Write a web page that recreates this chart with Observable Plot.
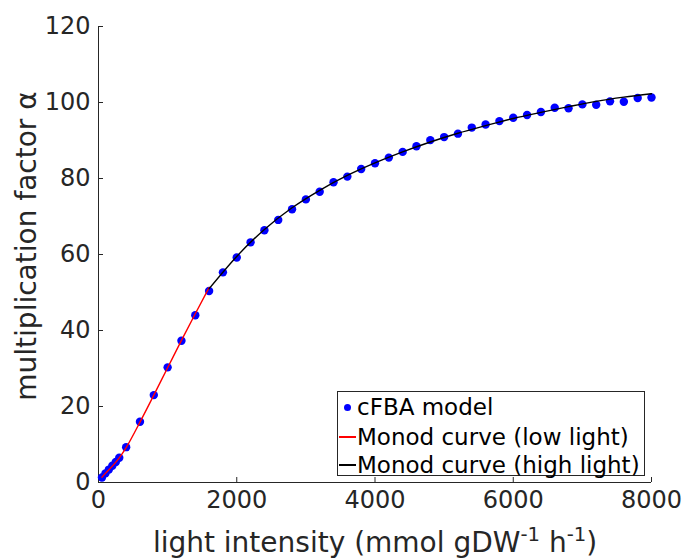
<!DOCTYPE html>
<html>
<head>
<meta charset="utf-8">
<script src="https://cdn.jsdelivr.net/npm/d3@7"></script>
<script src="https://cdn.jsdelivr.net/npm/@observablehq/plot@0.6"></script>
<style>
  html, body { margin: 0; padding: 0; background: #fff; }
  #wrap { position: relative; width: 685px; height: 560px; overflow: hidden; font-family: "DejaVu Sans", sans-serif; }
  #xlabel { position: absolute; left: 0; width: 750px; text-align: center; top: 529px; font-size: 28px; color: #262626; white-space: nowrap; line-height: 1; }
  #xlabel sup { font-size: 70%; vertical-align: 0; position: relative; top: -0.55em; }
  #ylabel { position: absolute; left: 27px; top: 246px; transform: translate(-50%, -50%) rotate(-90deg); font-size: 28px; color: #262626; white-space: nowrap; line-height: 1; }
  #legend { position: absolute; left: 337px; top: 391px; width: 308px; height: 85px; border: 1px solid #262626; background: #fff; font-size: 23px; color: #000; box-sizing: border-box; }
  .row { position: absolute; left: 0; height: 28px; line-height: 28px; white-space: nowrap; }
  .row span.t { position: absolute; left: 19px; }
  .sym { position: absolute; left: 1px; width: 17px; }
</style>
</head>
<body>
<div id="wrap">
  <div id="chart"></div>
  <div id="ylabel">multiplication factor α</div>
  <div id="xlabel">light intensity (mmol gDW<sup>-1</sup> h<sup>-1</sup>)</div>
  <div id="legend">
    <div class="row" style="top:1px"><span class="sym" style="top:11px;height:7px;"><span style="position:absolute;left:5px;top:0;width:7px;height:7px;border-radius:50%;background:#0000ff"></span></span><span class="t">cFBA model</span></div>
    <div class="row" style="top:31px"><span class="sym" style="top:13px;height:1.5px;background:#ff0000"></span><span class="t">Monod curve (low light)</span></div>
    <div class="row" style="top:59px"><span class="sym" style="top:13px;height:1.5px;background:#000000"></span><span class="t">Monod curve (high light)</span></div>
  </div>
</div>
<script>
// cFBA model points
const lightIntensity = [50,100,150,200,250,300,400,600,800,1000,1200,1400,
  1600,1800,2000,2200,2400,2600,2800,3000,3200,3400,3600,3800,4000,4200,4400,4600,4800,5000,
  5200,5400,5600,5800,6000,6200,6400,6600,6800,7000,7200,7400,7600,7800,8000];
const cfbaAlpha = [1.3,2.4,3.4,4.4,5.4,6.5,9.3,16.0,23.0,30.3,37.3,44.0,
  50.4,55.3,59.2,63.2,66.4,69.1,71.9,74.5,76.5,79.0,80.5,82.5,84.0,85.5,87.0,88.5,90.1,90.9,
  91.8,93.4,94.2,95.1,96.0,96.7,97.5,98.6,98.5,99.5,99.4,100.3,100.2,101.2,101.3];

// Monod curve (low light)
const lowLightX = [50,100,200,300,400,600,800,1000,1200,1400,1600];
const lowLightAlpha = [1.4,2.4,4.3,6.5,9.2,15.9,23.0,30.2,37.4,44.4,51.3];

// Monod curve (high light)
const highLightX = [1600,2000,2400,2800,3200,3600,4000,4400,4800,5200,5600,6000,6400,6800,7200,7600,8000];
const highLightAlpha = [51.0,59.5,66.6,72.3,76.9,80.8,84.1,87.0,89.6,91.9,93.9,95.8,97.4,98.9,100.3,101.4,102.3];

const xTicks = [0,2000,4000,6000,8000];
const yTicks = [0,20,40,60,80,100,120];

const points = lightIntensity.map((x, i) => ({x, y: cfbaAlpha[i]}));
const lowCurve = lowLightX.map((x, i) => ({x, y: lowLightAlpha[i]}));
const highCurve = highLightX.map((x, i) => ({x, y: highLightAlpha[i]}));

const axisColor = "#262626";

const chart = Plot.plot({
  width: 685,
  height: 560,
  marginLeft: 98,
  marginRight: 34,
  marginTop: 26,
  marginBottom: 78,
  style: {fontFamily: "DejaVu Sans", fontSize: "24px", color: axisColor, background: "#fff", overflow: "visible"},
  x: {domain: [0, 8000]},
  y: {domain: [0, 120]},
  marks: [
    Plot.ruleX([0], {stroke: axisColor, strokeWidth: 1}),
    Plot.ruleY([0], {stroke: axisColor, strokeWidth: 1}),
    Plot.axisX({ticks: xTicks, tickSize: -5, tickPadding: 13, label: null, tickFormat: d3.format("d"), stroke: axisColor}),
    Plot.axisY({ticks: yTicks, tickSize: -5, tickPadding: 13, label: null, tickFormat: d3.format("d"), stroke: axisColor}),
    Plot.dot(points, {x: "x", y: "y", r: 4.2, fill: "#0000ff", stroke: "none"}),
    Plot.line(lowCurve, {x: "x", y: "y", stroke: "#ff0000", strokeWidth: 1.4, curve: "monotone-x"}),
    Plot.line(highCurve, {x: "x", y: "y", stroke: "#000000", strokeWidth: 1.4, curve: "monotone-x"})
  ]
});
document.getElementById("chart").appendChild(chart);
</script>
</body>
</html>
